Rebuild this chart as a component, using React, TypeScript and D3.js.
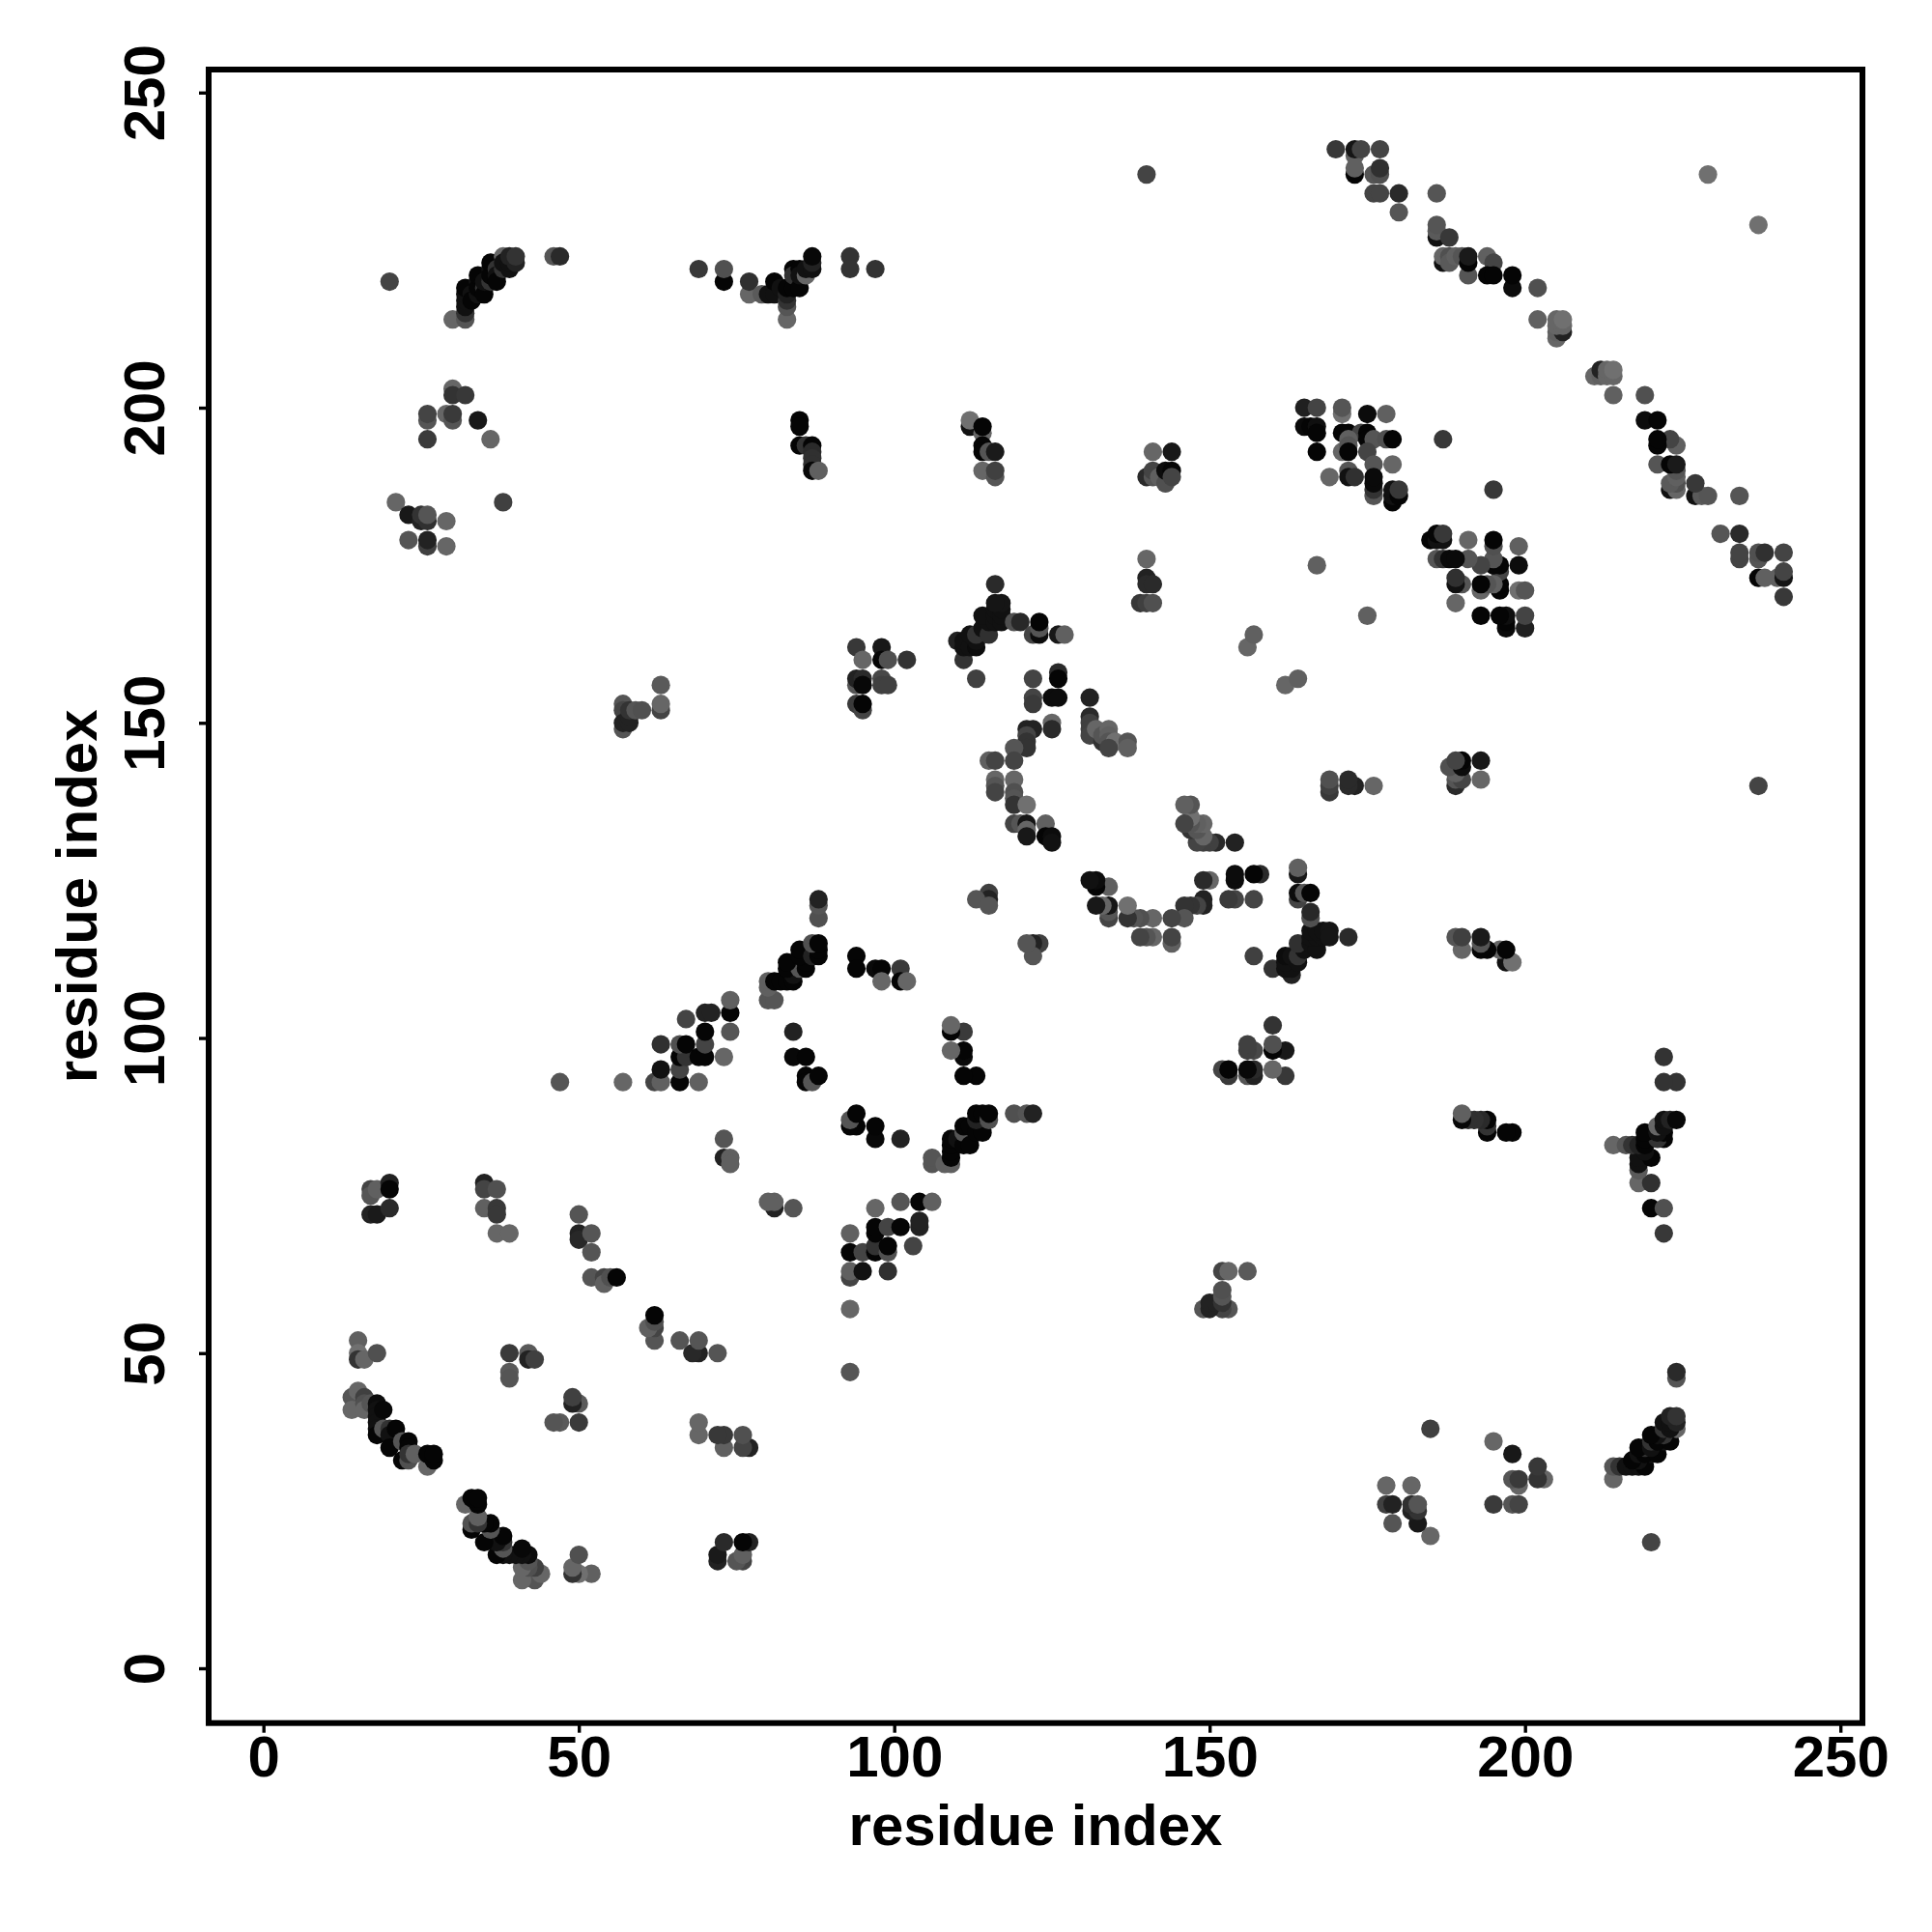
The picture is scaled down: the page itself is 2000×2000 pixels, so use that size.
import { useRef, useEffect } from "react";
import * as d3 from "d3";

// Contact map is symmetric, so only pairs with j > i are listed: [i, j, grey]
type Contact = [number, number, number];

const strandA: Contact[] = [
  [14,43,0x55],[14,41,0x66],[15,44,0x66],[16,43,0x40],[16,42,0x50],[16,41,0x66],[17,42,0x55],
  [18,42,0x0c],[18,41,0x11],[18,40,0x11],[18,39,0x11],[18,38,0x11],[18,37,0x05],[19,41,0x08],
  [19,38,0x55],[20,38,0x33],[20,37,0x11],[20,35,0x05],[21,38,0x05],[22,36,0x55],[22,33,0x05],
  [23,36,0x05],[23,35,0x05],[23,33,0x50],[23,34,0x33],[24,34,0x60],[26,32,0x66],[26,34,0x05],
  [27,33,0x05],[27,34,0x05],
];
const sheetB: Contact[] = [
  [15,52,0x60],[15,50,0x70],[15,49,0x33],[16,49,0x66],[18,50,0x50],
  [39,50,0x3a],[42,50,0x5a],[42,49,0x22],[43,49,0x40],[39,47,0x5a],[39,46,0x55],
  [17,76,0x44],[17,75,0x55],[18,76,0x60],[20,77,0x22],[20,76,0x05],[17,72,0x22],[18,72,0x1a],[20,73,0x2a],
  [35,77,0x22],[35,76,0x44],[37,76,0x50],[35,73,0x60],[37,73,0x38],[37,72,0x38],[37,69,0x66],[39,69,0x66],
  [50,72,0x55],[50,69,0x22],[50,68,0x28],[52,69,0x55],[52,66,0x55],[52,62,0x55],[54,62,0x44],[54,61,0x60],[55,62,0x50],[56,62,0x05],
  [73,84,0x55],[73,81,0x22],[74,81,0x60],[74,80,0x60],
];
const helixC: Contact[] = [
  [47,93,0x55],[57,93,0x66],[62,93,0x44],[63,93,0x60],[66,93,0x05],[69,93,0x60],
  [63,95,0x11],[66,95,0x44],[66,97,0x05],[67,97,0x33],[69,97,0x05],[70,97,0x05],[73,97,0x66],
  [63,99,0x30],[66,99,0x50],[67,99,0x05],[70,99,0x44],[67,103,0x44],[70,101,0x05],[74,101,0x55],
  [70,104,0x22],[71,104,0x22],[74,104,0x05],[74,106,0x60],[80,106,0x55],[81,106,0x55],[80,108,0x60],[80,109,0x60],
  [81,109,0x05],[82,109,0x05],[83,109,0x05],[84,109,0x05],[84,110,0x11],[83,111,0x05],[85,111,0x55],[86,111,0x05],
  [83,112,0x05],[86,112,0x05],[85,113,0x05],[85,114,0x05],[87,113,0x22],[88,113,0x05],[88,114,0x05],[87,115,0x50],[88,115,0x05],
  [88,119,0x50],[88,121,0x55],[88,122,0x22],
  [84,101,0x22],[84,97,0x08],[86,97,0x05],[86,94,0x05],[86,93,0x05],[87,93,0x55],[88,94,0x05],
  [94,113,0x05],[94,111,0x05],[97,111,0x0a],[98,111,0x05],[98,109,0x66],[101,111,0x3a],[101,109,0x05],[102,109,0x66],
];
const clusterD: Contact[] = [
  [57,153,0x55],[57,152,0x44],[57,149,0x55],[57,150,0x22],[58,150,0x22],[58,151,0x22],[58,152,0x33],[59,152,0x55],[60,152,0x50],
  [63,156,0x5a],[63,152,0x44],[63,153,0x66],
  [94,162,0x38],[98,162,0x18],[95,160,0x66],[98,160,0x05],[99,160,0x50],[102,160,0x33],
  [94,156,0x55],[94,157,0x22],[95,157,0x2a],[95,156,0x08],[98,157,0x48],[98,156,0x40],[99,156,0x40],
  [94,153,0x3a],[95,152,0x44],[95,153,0x05],
];
const clusterE: Contact[] = [
  [111,160,0x33],[110,163,0x22],[111,162,0x11],[111,163,0x11],[112,162,0x11],[113,162,0x0c],[113,163,0x11],[112,164,0x11],
  [113,164,0x33],[114,165,0x11],[115,164,0x30],[113,157,0x40],[115,166,0x11],[114,167,0x11],[116,166,0x11],[116,167,0x11],
  [116,168,0x11],[117,166,0x11],[117,167,0x11],[117,168,0x11],[117,169,0x15],[116,169,0x15],[116,172,0x2a],
  [119,166,0x50],[120,166,0x28],[122,164,0x44],[123,164,0x0c],[123,165,0x55],[123,166,0x05],[126,164,0x18],[127,164,0x60],
  [122,157,0x44],[126,158,0x2a],[126,157,0x05],[122,154,0x44],[122,153,0x3a],[125,154,0x0c],[126,154,0x0c],
  [125,150,0x66],[125,149,0x2a],[121,149,0x22],[122,149,0x22],[121,148,0x44],[121,147,0x33],[121,146,0x33],
  [119,146,0x55],[119,144,0x44],[115,144,0x60],[116,144,0x44],[116,141,0x66],[116,140,0x55],[116,139,0x44],
  [119,141,0x66],[119,139,0x50],[119,138,0x55],[119,137,0x33],[121,137,0x70],
  [119,134,0x44],[120,134,0x55],[121,134,0x15],[121,133,0x66],[121,132,0x18],[124,134,0x60],[124,132,0x05],[125,132,0x0c],[125,131,0x11],
  [115,123,0x40],[115,122,0x22],[113,122,0x55],[115,121,0x55],
];
const clusterF: Contact[] = [
  [131,154,0x22],[131,151,0x2a],[131,150,0x40],[131,149,0x40],[131,148,0x44],[132,149,0x66],
  [133,147,0x33],[133,148,0x55],[134,149,0x66],[134,148,0x60],[134,147,0x55],[135,147,0x70],[134,146,0x44],
  [137,147,0x55],[137,146,0x60],[156,162,0x66],[157,164,0x60],
];
const loopG: Contact[] = [
  [20,220,0x44],[30,214,0x66],[32,214,0x55],[32,215,0x33],[32,216,0x11],[32,217,0x11],[32,218,0x11],[32,219,0x05],
  [33,218,0x11],[33,217,0x05],[34,218,0x11],[34,220,0x11],[34,219,0x05],[34,221,0x05],[35,219,0x33],[35,218,0x05],[35,220,0x11],
  [36,220,0x33],[36,222,0x11],[36,221,0x05],[36,223,0x05],[37,222,0x33],[37,221,0x11],[37,220,0x05],
  [38,224,0x66],[38,222,0x33],[38,223,0x11],[39,222,0x11],[39,223,0x11],[39,224,0x22],[40,223,0x22],[40,224,0x33],
  [46,224,0x55],[47,224,0x2a],
  [69,222,0x38],[73,220,0x05],[73,222,0x50],[77,218,0x66],[77,220,0x30],[79,218,0x5a],[80,218,0x11],[81,218,0x11],[81,220,0x05],
  [82,219,0x11],[83,214,0x66],[83,216,0x55],[83,217,0x33],[83,218,0x22],[83,219,0x05],[84,219,0x05],[84,222,0x05],[84,221,0x33],
  [85,219,0x05],[85,222,0x05],[85,221,0x11],[86,221,0x66],[86,222,0x11],[87,222,0x11],[87,223,0x22],[87,224,0x08],
  [93,224,0x33],[93,222,0x33],[97,222,0x33],
];
const clusterH: Contact[] = [
  [30,203,0x66],[30,202,0x33],[32,202,0x38],[26,198,0x55],[26,199,0x44],[29,199,0x66],[30,198,0x55],[30,199,0x3a],[34,198,0x18],[26,195,0x3a],[36,195,0x66],
  [21,185,0x66],[38,185,0x40],[23,183,0x18],[25,182,0x22],[25,183,0x33],[26,182,0x30],[26,183,0x55],[29,182,0x66],
  [23,179,0x55],[26,178,0x40],[26,179,0x22],[29,178,0x66],
  [85,198,0x05],[85,197,0x05],[85,194,0x05],[86,194,0x33],[87,194,0x05],[87,193,0x2a],[87,192,0x30],[87,191,0x30],[87,190,0x08],[88,190,0x60],
  [112,197,0x11],[112,198,0x70],[114,196,0x66],[114,197,0x05],[114,194,0x05],[114,193,0x05],[115,193,0x55],[116,193,0x1a],[114,190,0x66],[116,189,0x55],[116,190,0x40],
];
const clusterI: Contact[] = [
  [140,237,0x44],[141,193,0x66],[144,193,0x18],[140,189,0x2a],[141,189,0x55],[141,190,0x44],[142,189,0x60],[143,188,0x50],[143,190,0x0c],[144,190,0x05],[144,189,0x44],
  [140,176,0x66],[140,173,0x22],[140,172,0x2a],[141,172,0x2a],[139,169,0x38],[140,169,0x40],[141,169,0x50],
];
const clusterJ: Contact[] = [
  [165,200,0x20],[167,200,0x44],[171,199,0x70],[171,200,0x55],[175,199,0x0c],[178,199,0x60],
  [165,197,0x0a],[166,197,0x05],[167,197,0x0f],[167,196,0x05],[171,196,0x05],[172,196,0x05],[174,196,0x44],[175,196,0x05],[175,195,0x05],
  [172,195,0x60],[176,195,0x55],[178,195,0x50],[179,195,0x05],
  [167,193,0x05],[171,193,0x66],[172,194,0x55],[172,193,0x05],[175,193,0x44],[176,191,0x55],[179,191,0x66],
  [169,189,0x66],[172,190,0x55],[172,189,0x11],[173,189,0x30],[176,186,0x55],[176,187,0x33],[176,188,0x0a],[176,189,0x0a],
  [179,185,0x05],[179,186,0x11],[179,187,0x11],[180,186,0x05],[180,187,0x38],[187,195,0x38],[167,175,0x60],
];
const diagonalBand: Contact[] = [
  [170,241,0x38],[173,240,0x60],[173,241,0x15],[174,241,0x44],[177,241,0x44],[173,237,0x05],[173,238,0x60],[176,237,0x55],[177,237,0x50],[177,238,0x30],
  [176,234,0x44],[177,234,0x44],[180,234,0x2a],[180,231,0x55],[186,234,0x55],[186,227,0x11],[186,228,0x5a],[186,229,0x55],[188,227,0x38],
  [187,223,0x11],[187,224,0x66],[188,224,0x50],[188,223,0x5a],[189,224,0x60],[190,224,0x55],[191,221,0x55],[191,223,0x05],[191,224,0x1a],
  [194,224,0x60],[195,223,0x44],[194,221,0x05],[195,221,0x05],[198,219,0x0c],[198,221,0x05],[202,219,0x50],[202,214,0x60],
  [205,211,0x66],[205,212,0x60],[206,212,0x22],[205,213,0x66],[206,213,0x66],[205,214,0x66],[206,214,0x70],
  [229,237,0x70],
];

const xTicks = [0, 50, 100, 150, 200, 250];
const yTicks = [0, 50, 100, 150, 200, 250];
const xTitle = "residue index";
const yTitle = "residue index";

export default function App() {
  const ref = useRef<SVGSVGElement>(null);

  useEffect(() => {
    if (!ref.current) return;
    const svg = d3.select(ref.current);
    svg.selectAll("*").remove();

    const font = "'Liberation Sans', Arial, sans-serif";
    const box = { left: 216, right: 1928, top: 72, bottom: 1783.7 };

    const xScale = d3.scaleLinear().domain([0, 250]).range([272.7, 1905.2]);
    const yScale = d3.scaleLinear().domain([0, 250]).range([1727, 95.8]);

    // Points, both triangles of the map
    const upper = [
      ...strandA, ...sheetB, ...helixC, ...clusterD, ...clusterE, ...clusterF,
      ...loopG, ...clusterH, ...clusterI, ...clusterJ, ...diagonalBand,
    ];
    const points = upper.flatMap(([i, j, g]) => [
      { x: i, y: j, g },
      { x: j, y: i, g },
    ]);

    svg
      .append("g")
      .selectAll("circle")
      .data(points)
      .join("circle")
      .attr("cx", (d) => xScale(d.x))
      .attr("cy", (d) => yScale(d.y))
      .attr("r", 9.6)
      .attr("fill", (d) => d3.rgb(d.g, d.g, d.g).formatHex());

    // Axes
    const xAxis = svg
      .append("g")
      .attr("transform", `translate(0, ${box.bottom})`)
      .call(d3.axisBottom(xScale).tickValues(xTicks).tickSize(10).tickFormat(d3.format("d")));
    const yAxis = svg
      .append("g")
      .attr("transform", `translate(${box.left}, 0)`)
      .call(d3.axisLeft(yScale).tickValues(yTicks).tickSize(10).tickFormat(d3.format("d")));
    xAxis.select(".domain").remove();
    yAxis.select(".domain").remove();
    svg.selectAll(".tick line").attr("stroke", "#000").attr("stroke-width", 3.4);
    xAxis
      .selectAll("text")
      .attr("y", null)
      .attr("dy", null)
      .attr("transform", "translate(0, 55)")
      .attr("font-family", font)
      .attr("font-weight", "bold")
      .attr("font-size", 60)
      .attr("fill", "#000");
    yAxis
      .selectAll("text")
      .attr("x", null)
      .attr("dy", null)
      .attr("text-anchor", "middle")
      .attr("transform", "translate(-46, 0) rotate(-90)")
      .attr("font-family", font)
      .attr("font-weight", "bold")
      .attr("font-size", 60)
      .attr("fill", "#000");

    // Frame
    svg
      .append("rect")
      .attr("x", box.left)
      .attr("y", box.top)
      .attr("width", box.right - box.left)
      .attr("height", box.bottom - box.top)
      .attr("fill", "none")
      .attr("stroke", "#000")
      .attr("stroke-width", 6);

    // Axis titles
    svg
      .append("text")
      .attr("x", (box.left + box.right) / 2)
      .attr("y", 1910)
      .attr("text-anchor", "middle")
      .attr("font-family", font)
      .attr("font-weight", "bold")
      .attr("font-size", 60)
      .text(xTitle);
    svg
      .append("text")
      .attr("transform", `translate(100, ${(box.top + box.bottom) / 2}) rotate(-90)`)
      .attr("text-anchor", "middle")
      .attr("font-family", font)
      .attr("font-weight", "bold")
      .attr("font-size", 60)
      .text(yTitle);
  }, []);

  return (
    <svg
      ref={ref}
      width={2000}
      height={2000}
      style={{ position: "absolute", left: 0, top: 0, background: "#fff" }}
    />
  );
}
